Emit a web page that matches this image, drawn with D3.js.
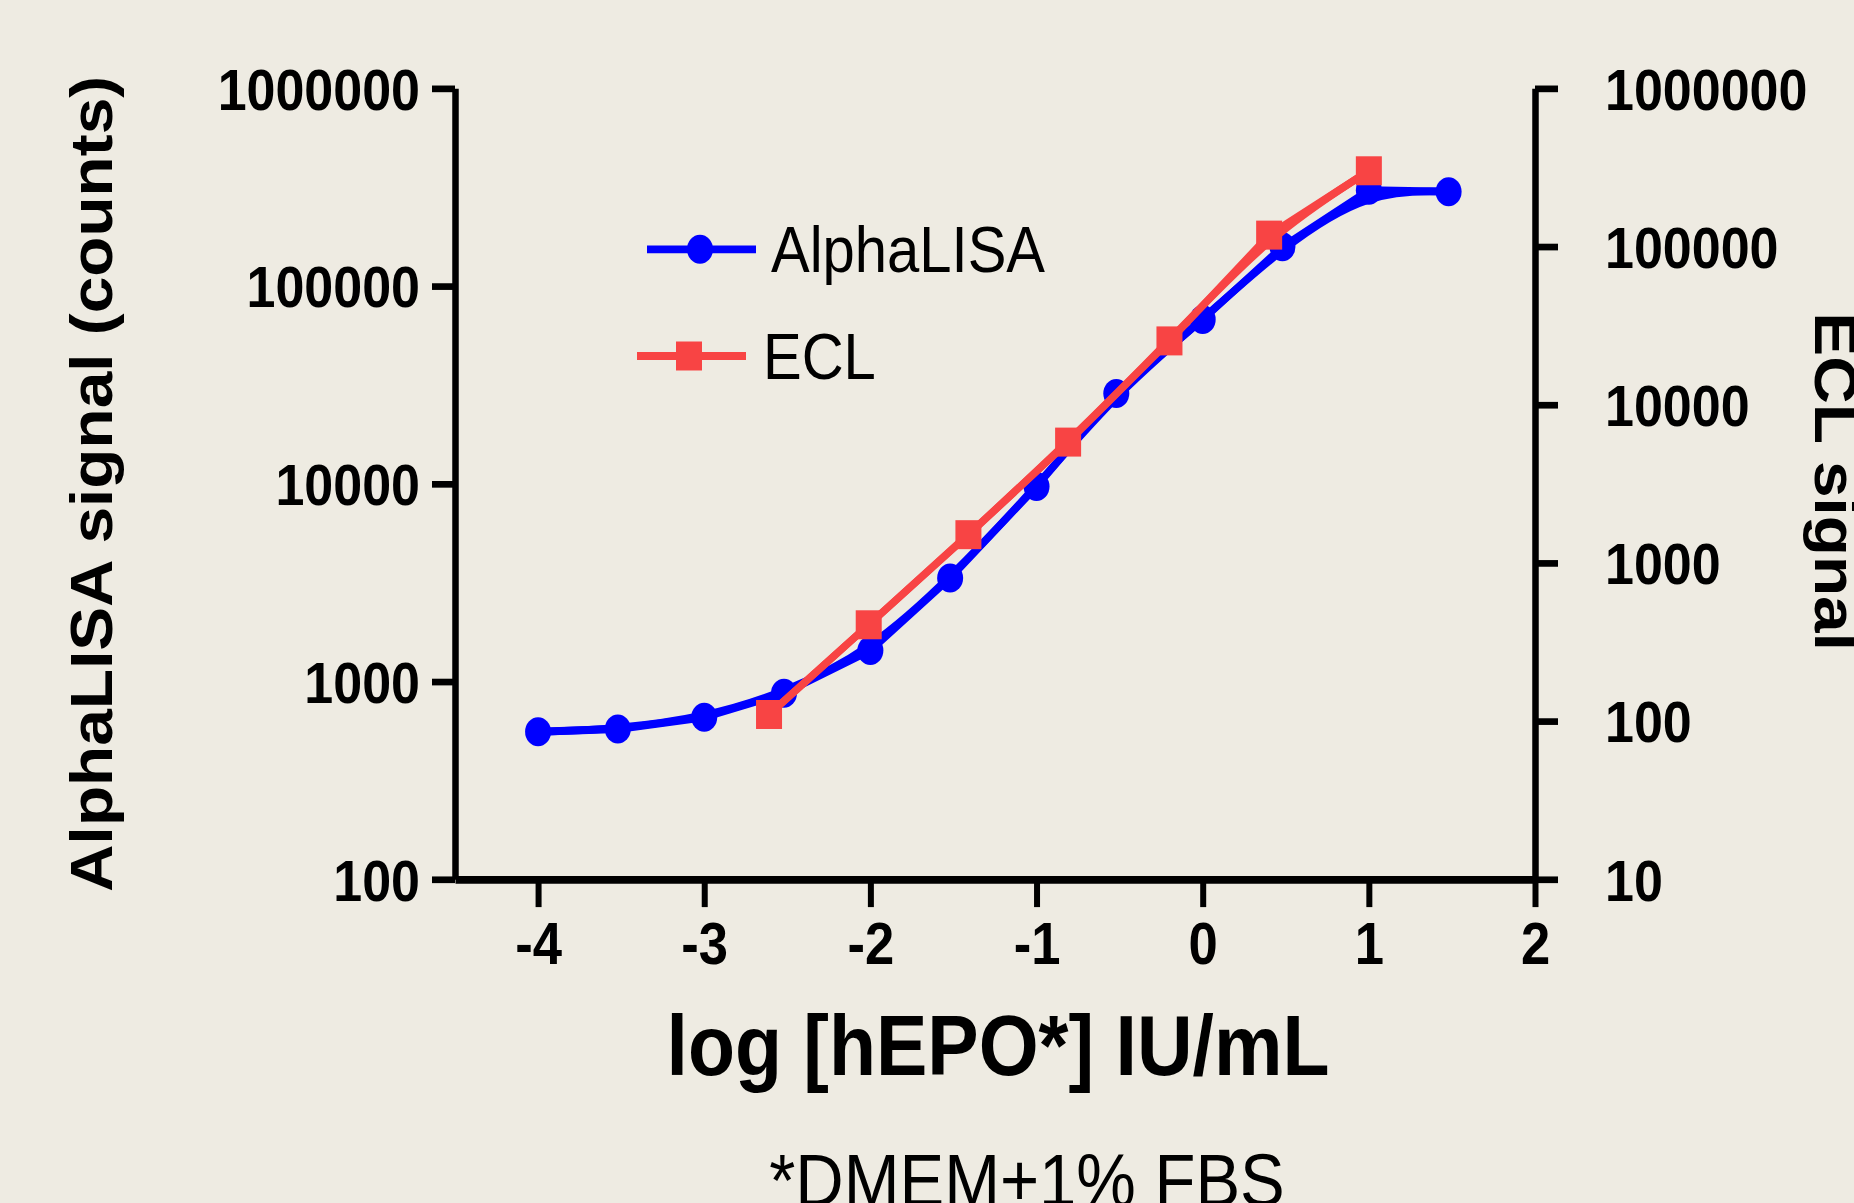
<!DOCTYPE html>
<html>
<head>
<meta charset="utf-8">
<script src="https://cdn.jsdelivr.net/npm/d3@7"></script>
<style>
  body { margin: 0; background: #eeebe2; }
  svg { display: block; }
</style>
</head>
<body>
<div id="chart"></div>
<script>
// log [hEPO] IU/mL and measured signals
var alphaX = [-4, -3.52, -3, -2.52, -2, -1.52, -1, -0.52, 0, 0.48, 1, 1.48];
var alphaY = [557, 575, 659, 873, 1436, 3334, 9680, 28640, 67800, 158000, 305000, 300000];
var eclX = [-2.61, -2.01, -1.41, -0.81, -0.2, 0.4, 1];
var eclY = [110, 406, 1507, 5800, 25300, 118000, 301000];

var xTicks = [-4, -3, -2, -1, 0, 1, 2];
var leftTicks = [100, 1000, 10000, 100000, 1000000];
var rightTicks = [10, 100, 1000, 10000, 100000, 1000000];

var blue = "#0000ff", red = "#f84444";
var font = "'Liberation Sans', Arial, sans-serif";

// the original picture is stretched vertically, so draw in a squeezed viewBox
var W = 1854, H = 1203, VH = 1079;

var svg = d3.select("#chart")
    .append("svg")
    .attr("width", W)
    .attr("height", H)
    .attr("viewBox", "0 0 " + W + " " + VH)
    .attr("preserveAspectRatio", "none")
    .style("background", "#eeebe2");

var x = d3.scaleLinear().domain([-4.5, 2]).range([455, 1535]);
var yL = d3.scaleLog().domain([100, 1000000]).range([788.6, 79.2]);
var yR = d3.scaleLog().domain([10, 1000000]).range([788.6, 79.2]);

// plain hyphen for negatives, like the original
var plain = function (d) { return String(d); };

function styleAxis(g, size) {
    g.select(".domain").attr("stroke", "#000").attr("stroke-width", 6.5);
    g.selectAll(".tick line").attr("stroke", "#000").attr("stroke-width", 6);
    g.selectAll(".tick text")
        .attr("fill", "#000")
        .style("font-family", font)
        .style("font-weight", "bold")
        .style("font-size", size + "px");
}

// Left axis
svg.append("g")
    .attr("transform", "translate(455,0)")
    .call(d3.axisLeft(yL).tickValues(leftTicks).tickFormat(plain)
        .tickSize(23).tickSizeOuter(0).tickPadding(12))
    .call(function (g) { styleAxis(g, 52); })
    .call(function (g) { g.selectAll(".tick text").attr("dy", "0.36em"); });

// Right axis
svg.append("g")
    .attr("transform", "translate(1535,0)")
    .call(d3.axisRight(yR).tickValues(rightTicks).tickFormat(plain)
        .tickSize(23).tickSizeOuter(0).tickPadding(47))
    .call(function (g) { styleAxis(g, 52); })
    .call(function (g) { g.selectAll(".tick text").attr("dy", "0.36em"); });

// Bottom axis
svg.append("g")
    .attr("transform", "translate(0,788.6)")
    .call(d3.axisBottom(x).tickValues(xTicks).tickFormat(plain)
        .tickSize(25).tickSizeOuter(0).tickPadding(14))
    .call(function (g) { styleAxis(g, 52.6); })
    .call(function (g) { g.select(".domain").attr("stroke-width", 7); });

// Axis titles
svg.append("text")
    .attr("transform", "translate(112,434) rotate(-90)")
    .attr("text-anchor", "middle")
    .style("font-family", font).style("font-weight", "bold").style("font-size", "59px")
    .text("AlphaLISA signal (counts)");

svg.append("text")
    .attr("transform", "translate(1815,432) rotate(90)")
    .attr("text-anchor", "middle")
    .style("font-family", font).style("font-weight", "bold").style("font-size", "59px")
    .text("ECL signal");

svg.append("text")
    .attr("x", 998).attr("y", 964)
    .attr("text-anchor", "middle")
    .style("font-family", font).style("font-weight", "bold").style("font-size", "77px")
    .text("log [hEPO*] IU/mL");

svg.append("text")
    .attr("x", 1027).attr("y", 1082)
    .attr("text-anchor", "middle")
    .style("font-family", font).style("font-size", "67px")
    .text("*DMEM+1% FBS");

// Data
var alpha = alphaX.map(function (d, i) { return [d, alphaY[i]]; });
var ecl = eclX.map(function (d, i) { return [d, eclY[i]]; });

var lineL = d3.line().x(function (d) { return x(d[0]); }).y(function (d) { return yL(d[1]); });
var fitL = d3.line().curve(d3.curveBasis).x(function (d) { return x(d[0]); }).y(function (d) { return yL(d[1]); });
var lineR = d3.line().x(function (d) { return x(d[0]); }).y(function (d) { return yR(d[1]); });
var fitR = d3.line().curve(d3.curveBasis).x(function (d) { return x(d[0]); }).y(function (d) { return yR(d[1]); });

// AlphaLISA: connecting line + smooth fit
[lineL, fitL].forEach(function (fn) {
    svg.append("path").datum(alpha)
        .attr("fill", "none").attr("stroke", blue).attr("stroke-width", 7)
        .attr("stroke-linejoin", "round")
        .attr("d", fn);
});
svg.selectAll(".dotA").data(alpha).enter().append("circle")
    .attr("class", "dotA")
    .attr("cx", function (d) { return x(d[0]); })
    .attr("cy", function (d) { return yL(d[1]); })
    .attr("r", 13)
    .attr("fill", blue);

// ECL
[lineR, fitR].forEach(function (fn) {
    svg.append("path").datum(ecl)
        .attr("fill", "none").attr("stroke", red).attr("stroke-width", 7)
        .attr("stroke-linejoin", "round")
        .attr("d", fn);
});
svg.selectAll(".sqE").data(ecl).enter().append("rect")
    .attr("class", "sqE")
    .attr("x", function (d) { return x(d[0]) - 13; })
    .attr("y", function (d) { return yR(d[1]) - 13; })
    .attr("width", 26).attr("height", 26)
    .attr("fill", red);

// Legend
var legend = svg.append("g");
legend.append("line").attr("x1", 647).attr("x2", 756).attr("y1", 223.6).attr("y2", 223.6)
    .attr("stroke", blue).attr("stroke-width", 7);
legend.append("circle").attr("cx", 700).attr("cy", 223.6).attr("r", 13).attr("fill", blue);
legend.append("text").attr("x", 771).attr("y", 243.7)
    .style("font-family", font).style("font-size", "58px").text("AlphaLISA");

legend.append("line").attr("x1", 637).attr("x2", 746).attr("y1", 319.3).attr("y2", 319.3)
    .attr("stroke", red).attr("stroke-width", 7);
legend.append("rect").attr("x", 676).attr("y", 306.3).attr("width", 26).attr("height", 26).attr("fill", red);
legend.append("text").attr("x", 763).attr("y", 339.5)
    .style("font-family", font).style("font-size", "58px").text("ECL");
</script>
</body>
</html>
